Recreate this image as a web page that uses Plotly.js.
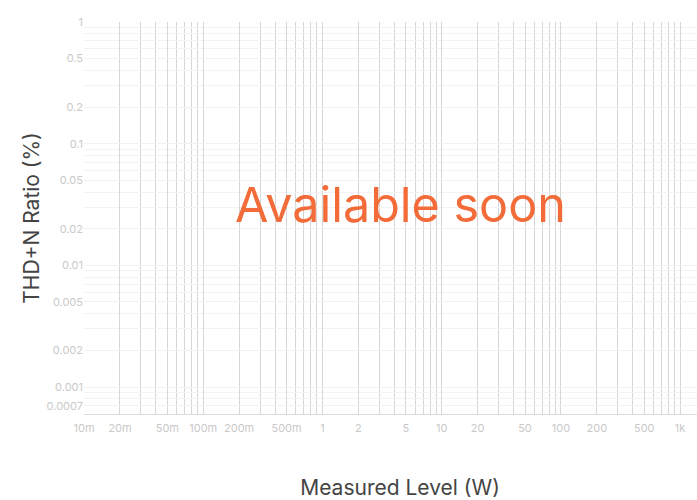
<!DOCTYPE html>
<html>
<head>
<meta charset="utf-8">
<script src="https://cdn.plot.ly/plotly-3.0.1.min.js"></script>
<style>
html,body{margin:0;padding:0;overflow:hidden;background:#fff;}
#chart{width:760px;height:500px;}
</style>
</head>
<body>
<div id="chart"></div>
<script>
// Axis ranges and tick labels
const xRange = [0.01, 2000];
const yRange = [0.0006, 1];
const xTickVals = [0.01, 0.02, 0.05, 0.1, 0.2, 0.5, 1, 2, 5, 10, 20, 50, 100, 200, 500, 1000];
const xTickText = ["10m", "20m", "50m", "100m", "200m", "500m", "1", "2", "5", "10", "20", "50", "100", "200", "500", "1k"];
const yTickVals = [0.0007, 0.001, 0.002, 0.005, 0.01, 0.02, 0.05, 0.1, 0.2, 0.5, 1];
const yTickText = ["0.0007", "0.001", "0.002", "0.005", "0.01", "0.02", "0.05", "0.1", "0.2", "0.5", "1"];
const xMinorVals = [0.03,0.04,0.06,0.07,0.08,0.09,0.3,0.4,0.6,0.7,0.8,0.9,3,4,6,7,8,9,30,40,60,70,80,90,300,400,600,700,800,900];
const yMinorVals = [0.0008,0.0009,0.003,0.004,0.006,0.007,0.008,0.009,0.03,0.04,0.06,0.07,0.08,0.09,0.3,0.4,0.6,0.7,0.8,0.9];
const noticeText = "Available soon";
const xTitle = "Measured Level (W)";
const yTitle = "THD+N Ratio (%)";

const tickFont = {family: "Inter, sans-serif", size: 11, color: "#c9c9c9"};
const titleFont = {family: "Inter, sans-serif", size: 21, color: "#444444"};

const layout = {
  width: 760, height: 500,
  margin: {l: 84, r: 44, t: 22, b: 86},
  paper_bgcolor: "#ffffff", plot_bgcolor: "#ffffff",
  showlegend: false,
  xaxis: {
    type: "log",
    range: [Math.log10(xRange[0]), Math.log10(xRange[1])],
    tickmode: "array", tickvals: xTickVals, ticktext: xTickText,
    tickfont: tickFont, ticks: "", ticklabelstandoff: 4,
    showgrid: true, gridcolor: "#d6d6d6", gridwidth: 1,
    minor: {tickmode: "array", tickvals: xMinorVals, showgrid: true, gridcolor: "#d6d6d6", gridwidth: 1, ticks: ""},
    showline: true, linecolor: "#dcdcdc", linewidth: 1,
    zeroline: false, fixedrange: true, automargin: false,
    title: {text: xTitle, font: titleFont, standoff: 47}
  },
  yaxis: {
    type: "log",
    range: [Math.log10(yRange[0]), Math.log10(yRange[1])],
    tickmode: "array", tickvals: yTickVals, ticktext: yTickText,
    tickfont: tickFont, ticks: "",
    showgrid: true, gridcolor: "#f1f1f1", gridwidth: 1,
    minor: {tickmode: "array", tickvals: yMinorVals, showgrid: true, gridcolor: "#f3f3f3", gridwidth: 1, ticks: ""},
    showline: false, zeroline: false, fixedrange: true, automargin: false,
    title: {text: yTitle, font: titleFont, standoff: 1}
  },
  annotations: [{
    text: noticeText, xref: "paper", yref: "paper", x: 0.5, y: 0.535,
    xanchor: "center", yanchor: "middle", showarrow: false,
    font: {family: "Inter, sans-serif", size: 48.5, color: "#f26b38"}
  }]
};

Plotly.newPlot("chart", [{x: [], y: [], type: "scatter", mode: "lines"}], layout, {displayModeBar: false, responsive: false});
</script>
</body>
</html>
